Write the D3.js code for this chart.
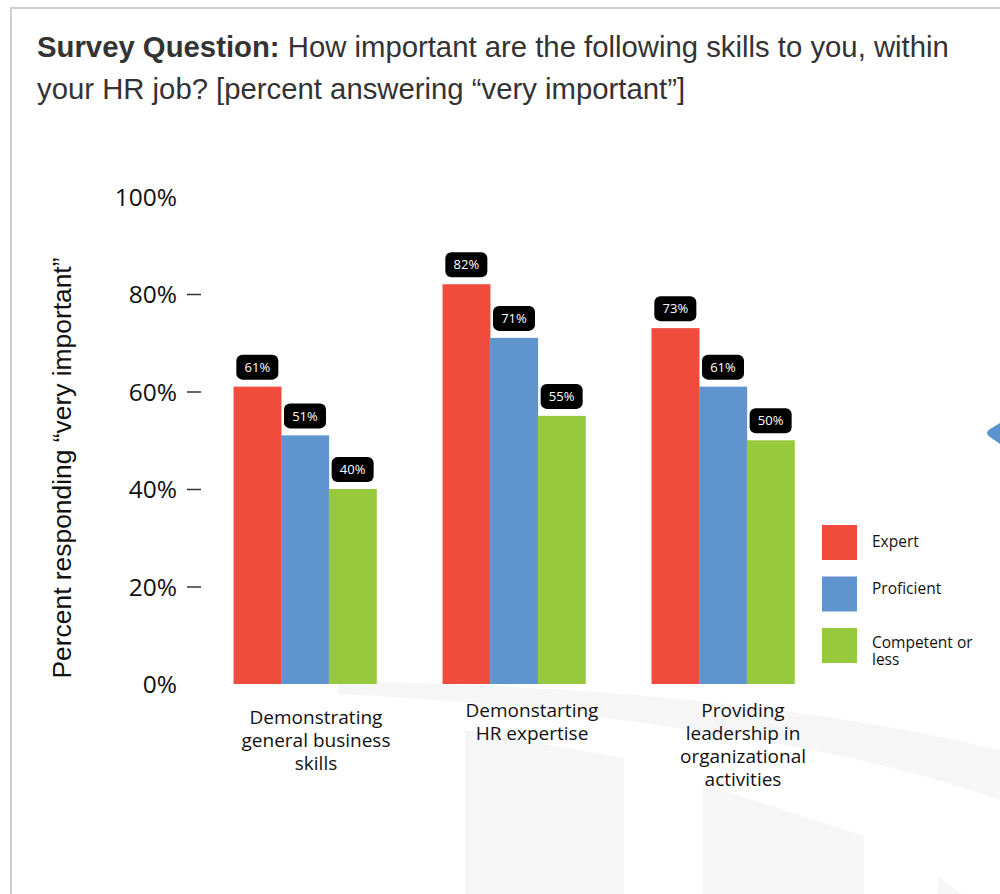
<!DOCTYPE html>
<html>
<head>
<meta charset="utf-8">
<script src="https://cdn.jsdelivr.net/npm/d3@7"></script>
<style>
  html, body { margin: 0; padding: 0; background: #fff; }
  svg { display: block; }
</style>
</head>
<body>
<svg id="chart" width="1000" height="894"></svg>
<script>
// Survey results: share of respondents answering "very important"
const categories = [
  ["Demonstrating", "general business", "skills"],
  ["Demonstarting", "HR expertise"],
  ["Providing", "leadership in", "organizational", "activities"]
];
const seriesNames = ["Expert", "Proficient", "Competent or less"];
const expertValues = [61, 82, 73];
const proficientValues = [51, 71, 61];
const competentValues = [40, 55, 50];
const yTickValues = [0, 20, 40, 60, 80, 100];

const seriesValues = [expertValues, proficientValues, competentValues];
const colors = ["#f04c3e", "#5f94cf", "#97c93d"];

const svg = d3.select("#chart");
const catKeys = categories.map((c, i) => i);

// card frame
svg.append("path")
  .attr("d", "M11,894 V8 H1000")
  .attr("fill", "none")
  .attr("stroke", "#cfcfcf")
  .attr("stroke-width", 2);

// faint background watermark
const wm = svg.append("g").attr("fill", "#f6f6f6");
wm.append("path").attr("d",
  "M338,681 C480,684 620,690 760,708 C860,720 940,736 1000,750 L1000,800 C930,776 840,752 740,738 C620,718 480,700 338,694 Z");
wm.append("path").attr("d", "M465,730 L624,758 L624,894 L465,894 Z");
wm.append("path").attr("d", "M703,784 L864,836 L864,894 L703,894 Z");
wm.append("path").attr("d", "M938,877 L962,894 L938,894 Z");

// small blue pointer at the right edge
svg.append("path")
  .attr("d", "M1000,423 L990,429 Q984,433 990,437 L1000,444 Z")
  .attr("fill", "#5b93cf");

// title
const title = svg.append("text")
  .attr("font-family", "'Liberation Sans', Arial, sans-serif")
  .attr("font-size", 29.3)
  .attr("fill", "#333");
const t1 = title.append("tspan").attr("x", 37).attr("y", 57);
t1.append("tspan").attr("font-weight", "bold").text("Survey Question:");
t1.append("tspan").text(" How important are the following skills to you, within");
title.append("tspan").attr("x", 37).attr("y", 99)
  .text("your HR job? [percent answering \u201cvery important\u201d]");

// scales
const x0 = d3.scaleBand().domain(catKeys).range([200.5, 827.5])
  .paddingInner(0.316).paddingOuter(0.158);
const x1 = d3.scaleBand().domain(d3.range(seriesNames.length))
  .range([0, x0.bandwidth()]);
const y = d3.scaleLinear().domain([0, 100]).range([684, 196.5]);

// y axis: tick labels and short tick marks (none at 0% and 100%)
const yAxis = d3.axisLeft(y)
  .tickValues(yTickValues)
  .tickFormat(d => d + "%")
  .tickSize(0)
  .tickPadding(0);
const yg = svg.append("g").attr("transform", "translate(177,0)").call(yAxis);
yg.select(".domain").remove();
yg.selectAll(".tick text")
  .attr("font-family", "'Open Sans', sans-serif")
  .attr("font-size", 24.5)
  .attr("fill", "#111")
  .attr("dy", "0.36em");
yg.selectAll(".tick").filter(d => d > 0 && d < 100)
  .append("line")
  .attr("x1", 10).attr("x2", 24)
  .attr("stroke", "#333").attr("stroke-width", 1.5);

// y axis title
svg.append("text")
  .attr("transform", "translate(71,468) rotate(-90)")
  .attr("text-anchor", "middle")
  .attr("font-family", "'Liberation Sans', Arial, sans-serif")
  .attr("font-size", 26.4)
  .attr("fill", "#111")
  .text("Percent responding \u201cvery important\u201d");

// bars
const groups = svg.append("g").selectAll("g")
  .data(catKeys)
  .join("g")
  .attr("transform", i => `translate(${x0(i)},0)`);

const barData = i => seriesValues.map((vals, s) => ({ s, v: vals[i] }));

groups.selectAll("rect.bar")
  .data(barData)
  .join("rect")
  .attr("class", "bar")
  .attr("x", d => x1(d.s))
  .attr("width", x1.bandwidth() + 0.3)
  .attr("y", d => y(d.v))
  .attr("height", d => y(0) - y(d.v))
  .attr("fill", d => colors[d.s]);

// value labels in black rounded boxes
const lbl = groups.selectAll("g.lbl")
  .data(barData)
  .join("g")
  .attr("class", "lbl")
  .attr("transform", d => `translate(${x1(d.s) + x1.bandwidth() / 2},${y(d.v) - 7})`);
lbl.append("rect")
  .attr("x", -21).attr("y", -25)
  .attr("width", 42).attr("height", 25)
  .attr("rx", 6)
  .attr("fill", "#000");
lbl.append("text")
  .attr("y", -12.5)
  .attr("dy", "0.36em")
  .attr("text-anchor", "middle")
  .attr("font-family", "'Open Sans', sans-serif")
  .attr("font-size", 13)
  .attr("fill", "#fff")
  .text(d => d.v + "%");

// category labels under each group
const labelNudge = [{ dx: 11, dy: 7 }, { dx: 18, dy: 0 }, { dx: 20, dy: 0 }];
const catLabels = svg.append("g").selectAll("text")
  .data(catKeys)
  .join("text")
  .attr("text-anchor", "middle")
  .attr("font-family", "'Open Sans', sans-serif")
  .attr("font-size", 19)
  .attr("fill", "#111");
catLabels.each(function (i) {
  const cx = x0(i) + x0.bandwidth() / 2 + labelNudge[i].dx;
  d3.select(this).selectAll("tspan")
    .data(categories[i])
    .join("tspan")
    .attr("x", cx)
    .attr("y", (d, k) => 717 + labelNudge[i].dy + k * 23)
    .text(d => d);
});

// legend
const legend = svg.append("g").attr("transform", "translate(822,525)");
const legendLines = [["Expert"], ["Proficient"], ["Competent or", "less"]];
const legendTextTop = [22, 17, 20];
const li = legend.selectAll("g")
  .data(seriesNames)
  .join("g")
  .attr("transform", (d, i) => `translate(0,${i * 51.5})`);
li.append("rect")
  .attr("width", 35).attr("height", 35)
  .attr("fill", (d, i) => colors[i]);
li.append("text")
  .attr("font-family", "'Open Sans', sans-serif")
  .attr("font-size", 15.5)
  .attr("fill", "#111")
  .each(function (d, i) {
    d3.select(this).selectAll("tspan")
      .data(legendLines[i])
      .join("tspan")
      .attr("x", 50)
      .attr("y", (t, k) => legendTextTop[i] + k * 17)
      .text(t => t);
  });
</script>
</body>
</html>
